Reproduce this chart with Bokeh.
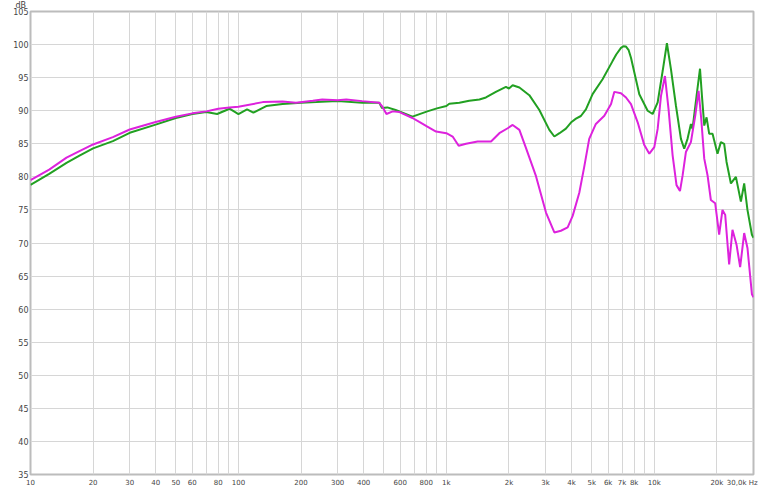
from bokeh.plotting import figure
from bokeh.models import FixedTicker, Range1d, Title
from bokeh.embed import file_html
from bokeh.resources import INLINE

# ---- data ----
green_f = [10, 12.3, 14.9, 17.2, 20, 24.9, 30, 40, 50, 60, 70, 79, 90.6, 100, 110, 118, 136, 163,
           200, 237, 300, 394, 476, 490, 520, 570, 687, 810, 900, 1000, 1033, 1155, 1288, 1442,
           1550, 1730, 1935, 2000, 2084, 2245, 2506, 2800, 3128, 3306, 3500, 3758, 4000, 4200,
           4436, 4690, 5050, 5640, 6300, 6560, 6915, 7100, 7310, 7530, 7725, 8470, 9290, 9820,
           10380, 10970, 11500, 12030, 12710, 13430, 13930, 14450, 15000, 15270, 15970, 16590,
           16950, 17390, 17840, 18370, 19060, 20140, 20900, 21680, 22260, 23360, 24690, 26090,
           27060, 28060, 29480, 30000]
green_db = [78.8, 80.45, 82.1, 83.2, 84.3, 85.4, 86.66, 87.9, 88.9, 89.5, 89.8, 89.5, 90.3, 89.5,
            90.2, 89.7, 90.7, 91.0, 91.2, 91.3, 91.45, 91.2, 91.2, 90.4, 90.5, 90.1, 89.1, 89.9,
            90.35, 90.7, 91.05, 91.2, 91.5, 91.7, 92.0, 92.85, 93.6, 93.35, 93.85, 93.5, 92.35,
            90.1, 87.1, 86.1, 86.6, 87.3, 88.3, 88.8, 89.2, 90.2, 92.5, 94.75, 97.5, 98.5, 99.5,
            99.75, 99.7, 99.15, 98.0, 92.5, 90.0, 89.5, 91.25, 96.0, 100.2, 96.25, 90.75, 85.75,
            84.25, 85.75, 88.0, 87.25, 92.25, 96.35, 92.25, 87.75, 89.0, 86.5, 86.5, 83.5, 85.25,
            85.0, 82.25, 79.0, 80.0, 76.25, 79.0, 75.0, 71.25, 70.8]

magenta_f = [10, 12.3, 14.9, 17.2, 20, 24.9, 30, 40, 50, 60, 70, 80, 90.6, 100, 131, 163, 189, 228,
             253, 300, 330, 394, 476, 490, 515, 552, 595, 687, 741, 810, 892, 1000, 1072, 1146,
             1244, 1413, 1640, 1798, 1972, 2084, 2245, 2416, 2698, 3014, 3306, 3556, 3831, 4050,
             4358, 4603, 4864, 5236, 5750, 6195, 6425, 6915, 7310, 7725, 8318, 8954, 9465, 10000,
             10380, 10770, 11250, 11710, 12250, 12790, 13290, 13690, 14190, 15000, 15740, 16330,
             16820, 17390, 18030, 18710, 19630, 20510, 21280, 21930, 22910, 23770, 24860, 25880,
             27060, 28060, 29480, 30000]
magenta_db = [79.5, 81.1, 82.9, 83.9, 84.9, 86.0, 87.16, 88.3, 89.1, 89.6, 89.9, 90.3, 90.5, 90.6,
              91.3, 91.4, 91.2, 91.5, 91.7, 91.6, 91.7, 91.45, 91.2, 90.7, 89.5, 89.9, 89.8, 88.9,
              88.3, 87.6, 86.85, 86.6, 86.1, 84.7, 85.0, 85.35, 85.35, 86.6, 87.35, 87.85, 87.1,
              84.35, 80.1, 74.6, 71.6, 71.85, 72.35, 74.1, 77.6, 81.5, 85.75, 88.0, 89.25, 91.0,
              92.85, 92.65, 92.0, 91.0, 88.25, 84.8, 83.5, 84.5, 87.25, 92.25, 95.25, 90.25, 83.25,
              78.75, 77.85, 80.25, 83.75, 85.25, 89.25, 93.0, 88.75, 82.75, 80.25, 76.5, 76.0,
              71.25, 75.0, 74.25, 66.75, 72.0, 69.75, 66.35, 71.5, 69.25, 62.25, 61.8]

x_ticks = [10, 20, 30, 40, 50, 60, 70, 80, 90, 100, 200, 300, 400, 500, 600, 700, 800, 900,
           1000, 2000, 3000, 4000, 5000, 6000, 7000, 8000, 9000, 10000, 20000, 30000]
x_labels = ["10", "20", "30", "40", "50", "60", "", "80", "", "100", "200", "300", "400", "",
            "600", "", "800", "", "1k", "2k", "3k", "4k", "5k", "6k", "7k", "8k", "", "10k",
            "20k", "30,0k Hz" + "\u00a0" * 4]
y_ticks = [35, 40, 45, 50, 55, 60, 65, 70, 75, 80, 85, 90, 95, 100, 105]

p = figure(width=766, height=489, x_axis_type="log",
           x_range=Range1d(10, 30000), y_range=Range1d(35, 105),
           output_backend="svg", toolbar_location=None,
           min_border_left=30, min_border_right=13, min_border_top=11, min_border_bottom=0)

p.add_layout(Title(text="dB", align="left", offset=-15, standoff=0, vertical_align="top",
                   text_font="DejaVu Sans", text_font_size="8px", text_font_style="normal",
                   text_color="#444444"), "above")

p.background_fill_color = "white"
p.border_fill_color = "white"
p.outline_line_color = "#bcbcbc"
p.outline_line_width = 2

p.xaxis.ticker = FixedTicker(ticks=x_ticks)
p.xaxis.major_label_overrides = {t: l for t, l in zip(x_ticks, x_labels)}
p.yaxis.ticker = FixedTicker(ticks=y_ticks)

for ax in (p.xaxis, p.yaxis):
    ax.axis_line_color = None
    ax.major_tick_line_color = None
    ax.minor_tick_line_color = None
    ax.major_tick_out = 0
    ax.major_tick_in = 0
    ax.minor_tick_out = 0
    ax.minor_tick_in = 0
    ax.major_label_text_font = "DejaVu Sans"
    ax.major_label_text_color = "#444444"
p.yaxis.major_label_text_font_size = "8px"
p.xaxis.major_label_text_font_size = "7px"
p.xaxis.major_label_standoff = 4
p.yaxis.major_label_standoff = 2

p.xgrid.grid_line_color = "#d6d6d6"
p.ygrid.grid_line_color = "#d6d6d6"

p.line(green_f, green_db, line_color="#22a022", line_width=2)
p.line(magenta_f, magenta_db, line_color="#dd22dd", line_width=2)

open("out.html", "w").write(file_html(p, INLINE))
